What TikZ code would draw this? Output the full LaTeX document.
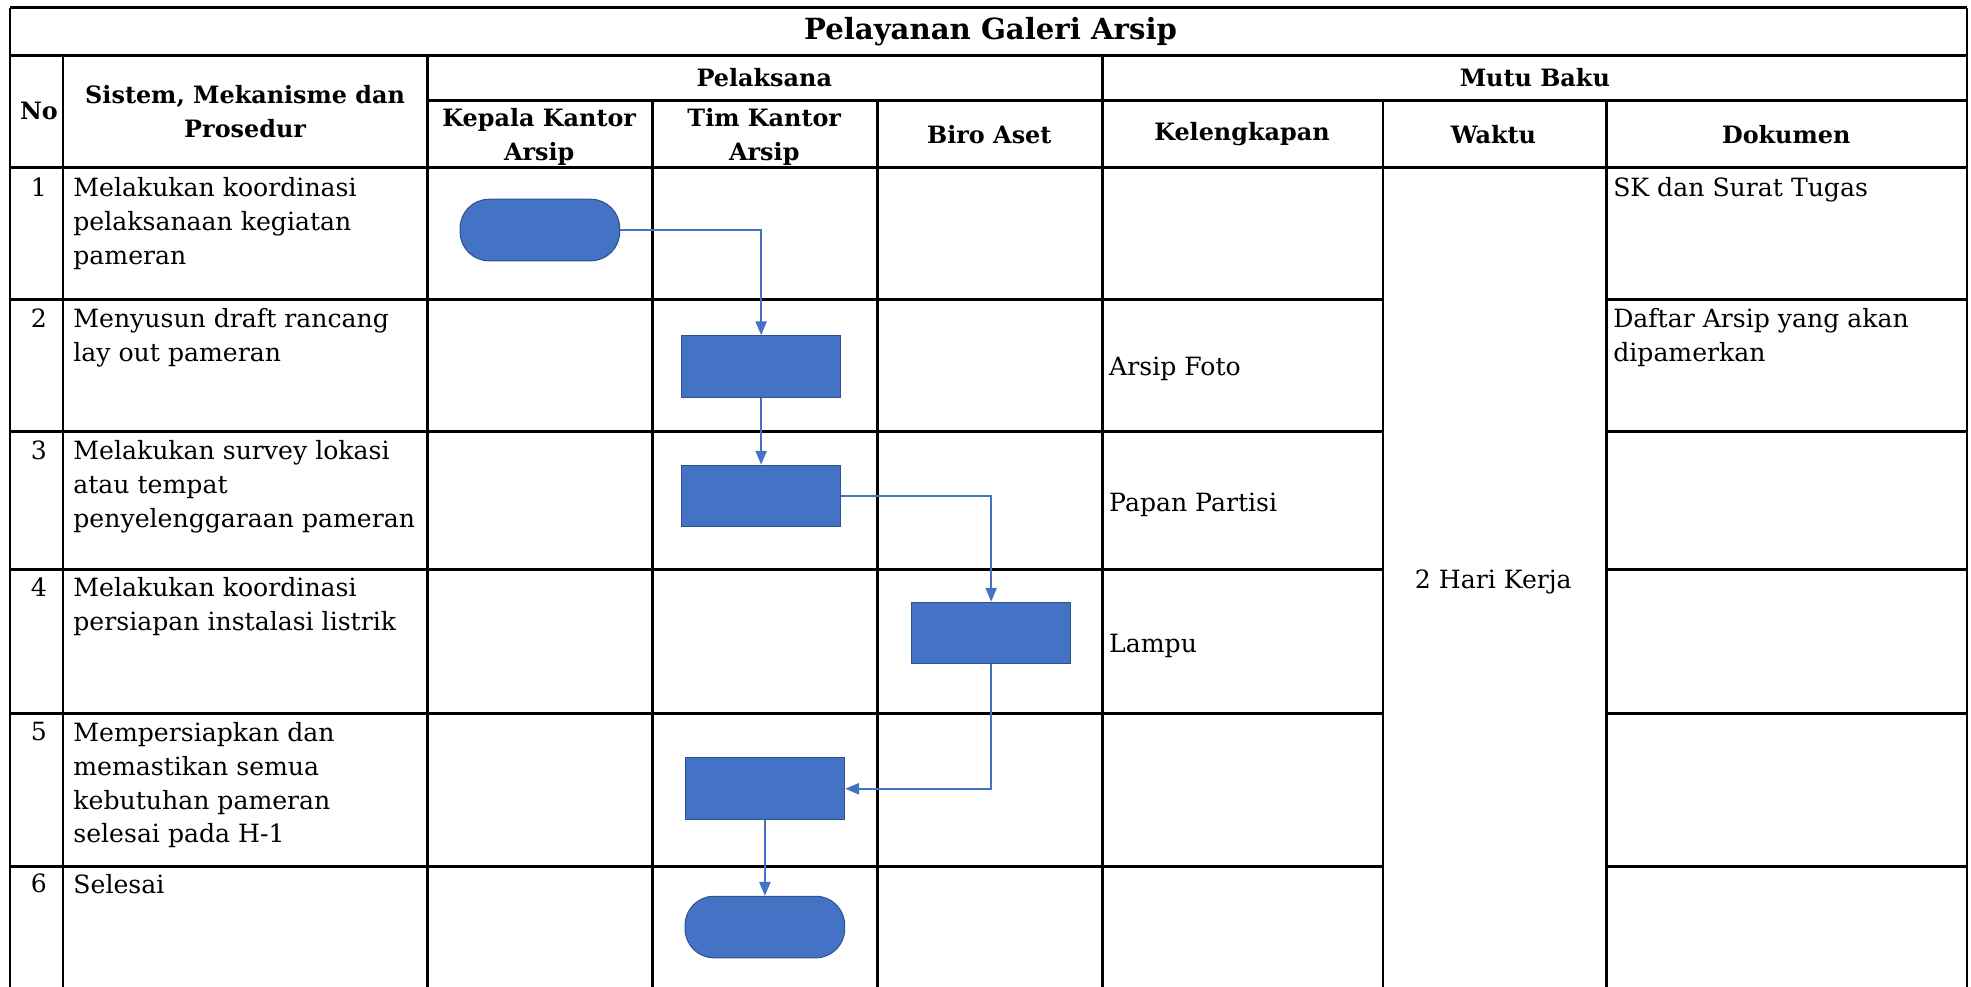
\documentclass[tikz,border=0pt]{standalone}
\usepackage{fontspec}
\setmainfont{DejaVu Serif}
\usetikzlibrary{arrows.meta}
\definecolor{flowblue}{HTML}{4472C4}
\definecolor{flowedge}{HTML}{2F528F}
\begin{document}
\begin{tikzpicture}[x=0.5pt,y=-0.5pt,
  hline/.style={line width=1.2pt,black},
  vline/.style={line width=0.9pt,black},
  txt/.style={anchor=north west,inner sep=0pt,align=left,font=\fontsize{10}{13.5}\selectfont},
  num/.style={anchor=north,inner sep=0pt,font=\fontsize{10}{13.5}\selectfont},
  hdr/.style={inner sep=0pt,align=center,font=\fontsize{9.5}{13.5}\selectfont\bfseries},
  proc/.style={rectangle,fill=flowblue,draw=flowedge,line width=0.4pt,minimum width=63.5pt,minimum height=24.5pt,inner sep=0pt},
  term/.style={rectangle,rounded corners=11.5pt,fill=flowblue,draw=flowedge,line width=0.4pt,minimum width=63.5pt,minimum height=24.5pt,inner sep=0pt},
  flow/.style={flowblue,line width=0.6pt,-{Triangle[width=4.5pt,length=5.5pt]}}
]
\useasboundingbox (0,0) rectangle (1568,785);
% ---- grid ----
\draw[hline] (8,6) -- (1565,6);
\draw[hline] (8,44) -- (1565,44);
\draw[hline] (340,80) -- (1565,80);
\draw[hline] (8,133) -- (1565,133);
\foreach \yy in {238,343,453,568,689}{
  \draw[hline] (8,\yy) -- (1100,\yy);
  \draw[hline] (1278,\yy) -- (1565,\yy);
}
\draw[vline] (8,6) -- (8,785);
\draw[vline] (1565,6) -- (1565,785);
\foreach \xx in {50,340,877}{\draw[vline] (\xx,44) -- (\xx,785);}
\foreach \xx in {519,698,1100,1278}{\draw[vline] (\xx,80) -- (\xx,785);}
% ---- headers ----
\node[hdr,font=\fontsize{11.6}{13.5}\selectfont\bfseries] (title) at (788,25) {Pelayanan Galeri Arsip};
\node[hdr] (hno) at (31,88) {No};
\node[hdr] (hsis) at (195,89) {Sistem, Mekanisme dan\\Prosedur};
\node[hdr] (hpel) at (608,62) {Pelaksana};
\node[hdr] (hmutu) at (1221,62) {Mutu Baku};
\node[hdr] (hkep) at (429,109) {Kepala Kantor\\Arsip};
\node[hdr] (htim) at (608,109) {Tim Kantor\\Arsip};
\node[hdr] (hbiro) at (787,107) {Biro Aset};
\node[hdr] (hkel) at (988,107) {Kelengkapan};
\node[hdr] (hwak) at (1188,107) {Waktu};
\node[hdr] (hdok) at (1421,107) {Dokumen};
% ---- numbers ----
\node[num] (n1) at (31,141) {1};
\node[num] (n2) at (31,245) {2};
\node[num] (n3) at (31,350) {3};
\node[num] (n4) at (31,459) {4};
\node[num] (n5) at (31,574) {5};
\node[num] (n6) at (31,695) {6};
% ---- procedures ----
\node[txt] (p1) at (58,141) {Melakukan koordinasi\\pelaksanaan kegiatan\\pameran};
\node[txt] (p2) at (58,245) {Menyusun draft rancang\\lay out pameran};
\node[txt] (p3) at (58,350) {Melakukan survey lokasi\\atau tempat\\penyelenggaraan pameran};
\node[txt] (p4) at (58,459) {Melakukan koordinasi\\persiapan instalasi listrik};
\node[txt] (p5) at (58,574) {Mempersiapkan dan\\memastikan semua\\kebutuhan pameran\\selesai pada H-1};
\node[txt] (p6) at (58,695) {Selesai};
% ---- mutu baku ----
\node[txt] (k2) at (882,284) {Arsip Foto};
\node[txt] (k3) at (882,392) {Papan Partisi};
\node[txt] (k4) at (882,504) {Lampu};
\node[txt] (d1) at (1283,141) {SK dan Surat Tugas};
\node[txt] (d2) at (1283,245) {Daftar Arsip yang akan\\dipamerkan};
\node[inner sep=0pt,font=\fontsize{10}{13.5}\selectfont] (w) at (1188,463) {2 Hari Kerja};
% ---- flow shapes ----
\node[term] (start) at (429.5,183) {};
\node[proc] (b2) at (605.5,291.5) {};
\node[proc] (b3) at (605.5,394.5) {};
\node[proc] (b4) at (788.5,503.5) {};
\node[proc] (b5) at (608.5,627.5) {};
\node[term] (endn) at (608.5,737.5) {};
% ---- connectors ----
\draw[flow] (start.east) -| (b2.north);
\draw[flow] (b2.south) -- (b3.north);
\draw[flow] (b3.east) -| (b4.north);
\draw[flow] (b4.south) |- (b5.east);
\draw[flow] (b5.south) -- (endn.north);
\end{tikzpicture}
\end{document}
